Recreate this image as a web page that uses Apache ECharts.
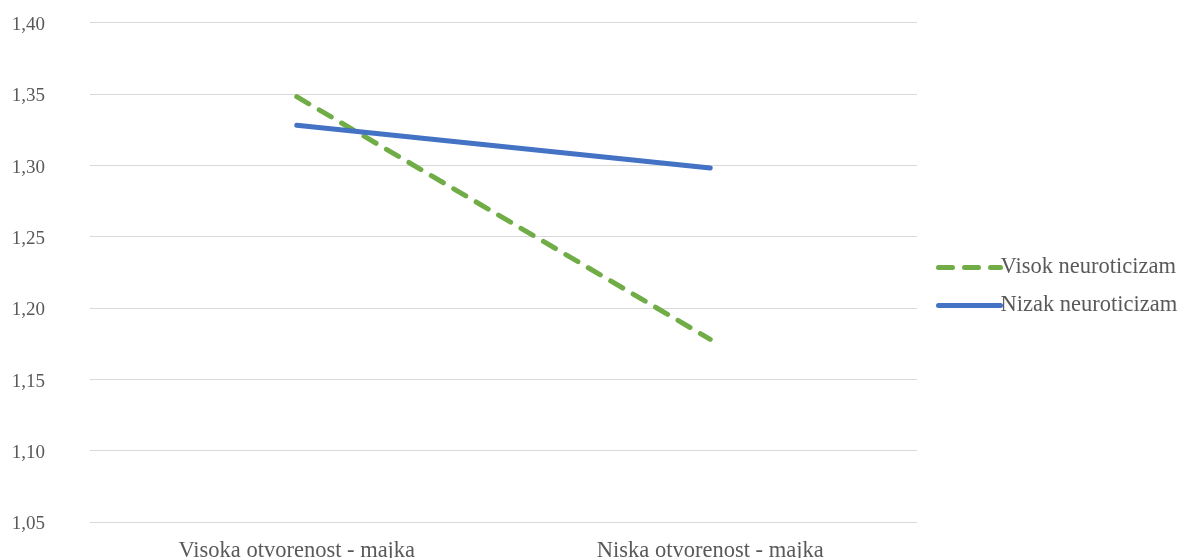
<!DOCTYPE html>
<html>
<head>
<meta charset="utf-8">
<script src="https://cdn.jsdelivr.net/npm/echarts@6/dist/echarts.min.js"></script>
<style>
  html, body { margin: 0; padding: 0; background: #fff; }
  #chart { width: 1180px; height: 558px; }
</style>
</head>
<body>
<div id="chart"></div>
<script>
// Category labels on the x axis
const categories = ['Visoka otvorenost - majka', 'Niska otvorenost - majka'];
// Series names and values
const seriesNames = ['Visok neuroticizam', 'Nizak neuroticizam'];
const visokValues = [1.348, 1.178];
const nizakValues = [1.328, 1.298];

const textColor = '#595959';
const fontFamily = '"Liberation Serif", "Times New Roman", serif';

const chart = echarts.init(document.getElementById('chart'));
chart.setOption({
  animation: false,
  grid: {
    left: 90, right: 263, top: 22.5, bottom: 36,
    containLabel: false, outerBoundsMode: 'none'
  },
  xAxis: {
    type: 'category',
    data: categories,
    boundaryGap: true,
    axisLine: { show: false },
    axisTick: { show: false },
    axisLabel: { color: textColor, fontFamily, fontSize: 22.5, margin: 18 }
  },
  yAxis: {
    type: 'value',
    min: 1.05,
    max: 1.40,
    interval: 0.05,
    axisLine: { show: false },
    axisTick: { show: false },
    splitLine: { lineStyle: { color: '#d9d9d9', width: 1 } },
    axisLabel: {
      color: textColor, fontFamily, fontSize: 19, margin: 45,
      verticalAlign: 'top', lineHeight: 19, padding: [-7, 0, 0, 0],
      formatter: v => v.toFixed(2).replace('.', ',')
    }
  },
  legend: {
    orient: 'vertical',
    left: 936,
    top: 256,
    padding: 0,
    itemWidth: 62,
    itemHeight: 14,
    itemGap: 15,
    itemStyle: { opacity: 0 },
    lineStyle: { width: 5, cap: 'round' },
    textStyle: { color: textColor, fontFamily, fontSize: 22.5, padding: [0, 0, 0, -5] },
    data: seriesNames
  },
  series: [
    {
      name: seriesNames[0],
      type: 'line',
      data: visokValues,
      symbol: 'none',
      lineStyle: { color: '#70AD47', width: 5, type: [14, 12], cap: 'round' },
      itemStyle: { color: '#70AD47' }
    },
    {
      name: seriesNames[1],
      type: 'line',
      data: nizakValues,
      symbol: 'none',
      lineStyle: { color: '#4472C4', width: 5, cap: 'round' },
      itemStyle: { color: '#4472C4' }
    }
  ]
});
</script>
</body>
</html>
